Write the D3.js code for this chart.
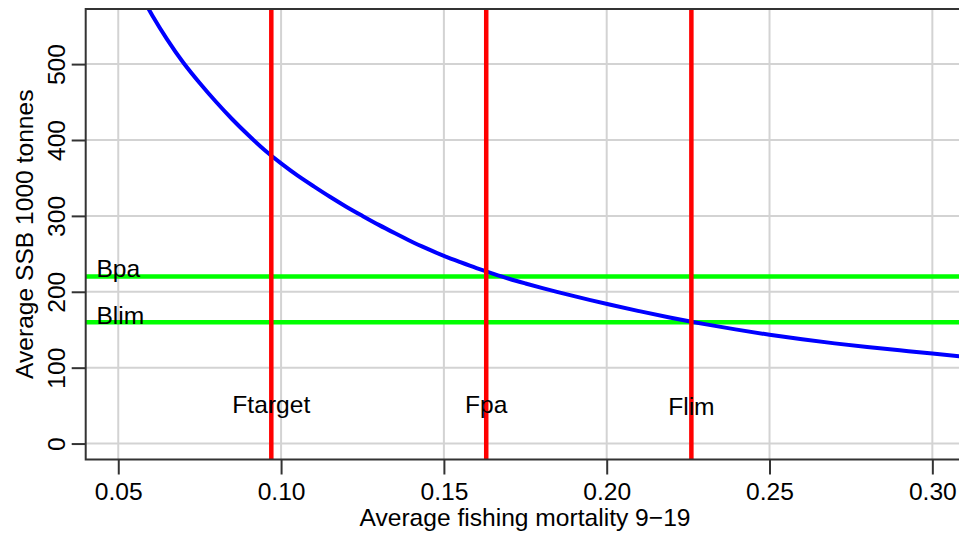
<!DOCTYPE html>
<html>
<head>
<meta charset="utf-8">
<script src="https://cdn.jsdelivr.net/npm/d3@7"></script>
<style>
  html, body { margin: 0; padding: 0; background: #fff; }
  svg { display: block; }
  text { font-family: "Liberation Sans", Arial, Helvetica, sans-serif; fill: #000; }
</style>
</head>
<body>
<svg id="chart" width="959" height="539"></svg>
<script>
// ---- data ----
const curveF   = [0.058, 0.060, 0.065, 0.070, 0.075, 0.080, 0.085, 0.090, 0.095, 0.100, 0.105, 0.110, 0.115, 0.120, 0.125, 0.130, 0.135, 0.140, 0.145, 0.150, 0.155, 0.160, 0.165, 0.170, 0.175, 0.180, 0.185, 0.190, 0.195, 0.200, 0.210, 0.220, 0.226, 0.230, 0.240, 0.250, 0.260, 0.270, 0.280, 0.290, 0.300, 0.310];
const curveSSB = [583,   567,   532,   501,   475,   450,   427,   406,   386,   369,   353,   339,   325,   312,   300,   288,   277,   266,   256.5, 247,   239,   231,   224,   217,   211,   205,   199.5, 194.2, 189,   184,   174.3, 165.5, 160.5, 157.4, 150,   143.2, 137.3, 131.9, 127.1, 122.8, 118.7, 114.2];

const refFNames  = ["Ftarget", "Fpa", "Flim"];
const refFValues = [0.097, 0.163, 0.226];
const refBNames  = ["Bpa", "Blim"];
const refBValues = [220, 160];

const xTicks = [0.05, 0.10, 0.15, 0.20, 0.25, 0.30];
const xTickLabels = ["0.05", "0.10", "0.15", "0.20", "0.25", "0.30"];
const yTicks = [0, 100, 200, 300, 400, 500];
const yTickLabels = ["0", "100", "200", "300", "400", "500"];

const xTitle = "Average fishing mortality 9\u221219";
const yTitle = "Average SSB 1000 tonnes";

// ---- layout ----
const svg = d3.select("#chart");
const L = 85.7, R = 964.9, T = 9, B = 459.5;
const x = d3.scaleLinear().domain([0.04, 0.31]).range([L, R]);
const y = d3.scaleLinear().domain([-21, 572.6]).range([B, T]);
const FS = 24.6;

svg.append("defs").append("clipPath").attr("id", "clip")
  .append("rect").attr("x", L).attr("y", T).attr("width", R - L).attr("height", B - T);

const plot = svg.append("g").attr("clip-path", "url(#clip)");

// grid
plot.append("g").selectAll("line").data(xTicks).join("line")
  .attr("x1", d => x(d)).attr("x2", d => x(d)).attr("y1", T).attr("y2", B)
  .attr("stroke", "#d3d3d3").attr("stroke-width", 2);
plot.append("g").selectAll("line").data(yTicks).join("line")
  .attr("y1", d => y(d)).attr("y2", d => y(d)).attr("x1", L).attr("x2", R)
  .attr("stroke", "#d3d3d3").attr("stroke-width", 2);

// green reference lines
plot.append("g").selectAll("line").data(refBValues).join("line")
  .attr("y1", d => y(d)).attr("y2", d => y(d)).attr("x1", L).attr("x2", R)
  .attr("stroke", "#00ff00").attr("stroke-width", 4.5);

// curve
const pts = curveF.map((f, i) => [f, curveSSB[i]]);
plot.append("path").datum(pts)
  .attr("fill", "none").attr("stroke", "#0000ff").attr("stroke-width", 4)
  .attr("d", d3.line().x(d => x(d[0])).y(d => y(d[1])).curve(d3.curveBasis));

// labels for reference lines
const bLabelF = 0.0433;
const bLabelShift = [0, 2];
svg.append("g").selectAll("text").data(refBNames).join("text")
  .attr("x", x(bLabelF)).attr("y", (d, i) => y(refBValues[i]) + bLabelShift[i])
  .attr("font-size", FS).text(d => d);

const fLabelSSB = [52, 52, 49.5];
svg.append("g").selectAll("text").data(refFNames).join("text")
  .attr("x", (d, i) => x(refFValues[i])).attr("y", (d, i) => y(fLabelSSB[i]))
  .attr("dy", "0.35em").attr("text-anchor", "middle")
  .attr("font-size", FS).text(d => d);

// red reference lines
plot.append("g").selectAll("line").data(refFValues).join("line")
  .attr("x1", d => x(d)).attr("x2", d => x(d)).attr("y1", T).attr("y2", B)
  .attr("stroke", "#ff0000").attr("stroke-width", 4.5);

// box
svg.append("path")
  .attr("d", `M${R},${T}H${L}V${B}H${R}`)
  .attr("fill", "none").attr("stroke", "#333").attr("stroke-width", 2);

// axes
const xAxis = d3.axisBottom(x).tickValues(xTicks).tickFormat((d, i) => xTickLabels[i])
  .tickSize(15).tickSizeOuter(0);
const gx = svg.append("g").attr("transform", `translate(0,${B})`).call(xAxis);
gx.select(".domain").remove();
gx.selectAll(".tick line").attr("stroke", "#333").attr("stroke-width", 2);
gx.selectAll(".tick text").attr("font-size", FS).attr("font-family", "Liberation Sans, Arial, sans-serif")
  .attr("fill", "#000").attr("y", 40.5).attr("dy", 0);

const yAxis = d3.axisLeft(y).tickValues(yTicks).tickFormat((d, i) => yTickLabels[i])
  .tickSize(14).tickSizeOuter(0);
const gy = svg.append("g").attr("transform", `translate(${L},0)`).call(yAxis);
gy.select(".domain").remove();
gy.selectAll(".tick line").attr("stroke", "#333").attr("stroke-width", 2);
gy.selectAll(".tick text").attr("font-size", FS).attr("font-family", "Liberation Sans, Arial, sans-serif")
  .attr("fill", "#000")
  .attr("x", null).attr("dy", null)
  .attr("text-anchor", "middle")
  .attr("transform", "translate(-21,0) rotate(-90)");

// titles
svg.append("text").attr("x", 525).attr("y", 526)
  .attr("text-anchor", "middle").attr("font-size", FS).text(xTitle);
svg.append("text").attr("transform", `translate(33,${(T + B) / 2}) rotate(-90)`)
  .attr("text-anchor", "middle").attr("font-size", FS).text(yTitle);
</script>
</body>
</html>
